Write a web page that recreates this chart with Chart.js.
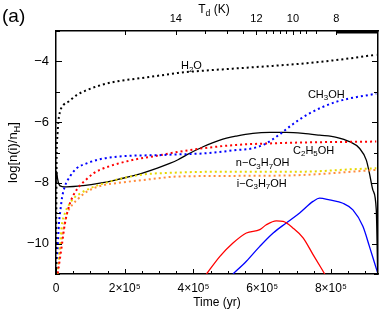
<!DOCTYPE html>
<html>
<head>
<meta charset="utf-8">
<script src="https://cdn.jsdelivr.net/npm/chart.js@4.4.1/dist/chart.umd.min.js"></script>
<style>
  html, body { margin: 0; padding: 0; background: #fff; }
</style>
</head>
<body>
<canvas id="chart" width="388" height="314"></canvas>
<script>
// time in yr, abundances as log[n(i)/nH]
const h2oT = [0, 900, 2000, 3800, 6700, 11600, 21200, 35700, 60000, 89000, 128000, 176000, 234000, 293000, 355000, 380000, 514000, 709000, 805000, 869000, 932000];
const h2oV = [-11, -9, -7.0, -6.5, -6.0, -5.66, -5.44, -5.33, -5.11, -4.95, -4.79, -4.66, -4.57, -4.48, -4.38, -4.35, -4.24, -4.08, -3.97, -3.88, -3.78];

const ch3ohT = [0, 1500, 4400, 8700, 13000, 17400, 26200, 40700, 60000, 89000, 128000, 176000, 234000, 293000, 331000, 428000, 525000, 573000, 612000, 651000, 690000, 738000, 816000, 932000];
const ch3ohV = [-11, -10.6, -10.2, -9.32, -8.89, -8.5, -8.1, -7.79, -7.52, -7.36, -7.22, -7.14, -7.10, -7.09, -7.07, -7.03, -6.92, -6.86, -6.70, -6.40, -6.06, -5.71, -5.33, -5.06];

const c2h5ohT = [0, 6700, 16600, 26200, 40700, 60000, 89000, 110000, 128000, 176000, 234000, 293000, 355000, 428000, 525000, 622000, 719000, 932000];
const c2h5ohV = [-11.3, -10.85, -10.09, -9.32, -8.67, -8.23, -7.88, -7.68, -7.57, -7.38, -7.22, -7.11, -6.98, -6.86, -6.75, -6.70, -6.67, -6.64];

const nprT = [0, 4400, 11600, 16600, 26200, 37800, 52300, 71700, 101000, 159000, 243000, 355000, 525000, 719000, 864000, 932000];
const nprV = [-11.5, -10.85, -10.1, -9.43, -8.99, -8.72, -8.50, -8.34, -8.17, -7.95, -7.74, -7.66, -7.63, -7.63, -7.55, -7.52];

const iprT = [0, 6700, 13400, 23300, 33100, 47600, 66800, 91000, 139000, 176000, 273000, 355000, 525000, 719000, 864000, 932000];
const iprV = [-11.5, -10.75, -10.1, -9.43, -8.99, -8.72, -8.50, -8.28, -8.07, -8.01, -7.88, -7.79, -7.77, -7.74, -7.63, -7.57];

const blackT = [0, 1500, 4400, 8700, 17400, 31000, 79000, 128000, 176000, 234000, 293000, 331000, 355000, 380000, 428000, 477000, 525000, 573000, 622000, 670000, 719000, 767000, 816000, 854000, 883000, 903000, 912000, 922000, 932000, 936000];
const blackV = [-8.0, -7.62, -7.85, -8.05, -8.12, -8.13, -8.09, -8.01, -7.90, -7.74, -7.52, -7.36, -7.24, -7.08, -6.81, -6.59, -6.46, -6.37, -6.34, -6.34, -6.37, -6.43, -6.50, -6.64, -6.86, -7.25, -7.68, -8.23, -8.89, -11];

const redT = [438000, 477000, 515000, 554000, 593000, 612000, 641000, 661000, 690000, 719000, 748000, 782000];
const redV = [-11, -10.42, -9.98, -9.65, -9.54, -9.38, -9.25, -9.27, -9.49, -9.81, -10.36, -11];

const blueT = [515000, 554000, 593000, 632000, 670000, 709000, 748000, 767000, 796000, 835000, 864000, 893000, 912000, 927000, 937000];
const blueV = [-11, -10.58, -10.09, -9.65, -9.32, -8.99, -8.61, -8.50, -8.56, -8.67, -8.89, -9.43, -10.09, -10.64, -11];

// bottom axis ticks
const timeTicks = [0, 50000, 100000, 150000, 200000, 250000, 300000, 350000, 400000, 450000, 500000, 550000, 600000, 650000, 700000, 750000, 800000, 850000, 900000];
const timeTickLabels = ['0', '', '', '', '2\u00d710\u2075', '', '', '', '4\u00d710\u2075', '', '', '', '6\u00d710\u2075', '', '', '', '8\u00d710\u2075', '', ''];
const timeTickMajor = [true, false, false, false, true, false, false, false, true, false, false, false, true, false, false, false, true, false, false];

// left / right axis ticks
const logTicks = [-11, -10, -9, -8, -7, -6, -5, -4, -3];
const logTickLabels = ['', '\u221210', '', '\u22128', '', '\u22126', '', '\u22124', ''];

// top axis: dust temperature ticks (time where T_d takes the value)
const tdTickT = [200500, 348700, 433000, 497800, 544300, 583200, 612300, 631500, 653000, 670400, 689600, 709100, 728500, 757600, 815700];
const tdTickLabel = ['', '14', '', '', '', '12', '', '', '', '', '10', '', '', '', '8'];
const tdTickMajor = [true, true, false, false, false, true, false, false, false, false, true, false, false, false, true];
const tdFlatStart = 815700;

const tMax = 937000;

const speciesLabels = [
  { parts: [['H', 0], ['2', 1], ['O', 0]], t: 394000, v: -4.13 },
  { parts: [['CH', 0], ['3', 1], ['OH', 0]], t: 786600, v: -5.06 },
  { parts: [['C', 0], ['2', 1], ['H', 0], ['5', 1], ['OH', 0]], t: 749700, v: -6.92 },
  { parts: [['n\u2212C', 0], ['3', 1], ['H', 0], ['7', 1], ['OH', 0]], t: 601500, v: -7.32 },
  { parts: [['i\u2212C', 0], ['3', 1], ['H', 0], ['7', 1], ['OH', 0]], t: 598600, v: -7.99 }
];

const FONT = "'Liberation Sans', Arial, sans-serif";
Chart.defaults.font.family = FONT;
Chart.defaults.color = '#000';

function pts(t, v) {
  return t.map((x, i) => ({ x: x, y: v[i] }));
}

function dotted(label, t, v, color) {
  return {
    label: label, data: pts(t, v), borderColor: color, borderWidth: 2,
    borderDash: [2, 3], borderCapStyle: 'butt', pointRadius: 0,
    cubicInterpolationMode: 'monotone', fill: false
  };
}

function solid(label, t, v, color) {
  return {
    label: label, data: pts(t, v), borderColor: color, borderWidth: 1.3,
    pointRadius: 0, cubicInterpolationMode: 'monotone', fill: false
  };
}

function drawRich(ctx, parts, cx, cy, size) {
  let w = 0;
  parts.forEach(p => {
    ctx.font = (p[1] ? size * 0.72 : size) + 'px ' + FONT;
    w += ctx.measureText(p[0]).width;
  });
  let x = cx - w / 2;
  ctx.textAlign = 'left';
  ctx.textBaseline = 'alphabetic';
  parts.forEach(p => {
    ctx.font = (p[1] ? size * 0.72 : size) + 'px ' + FONT;
    ctx.fillText(p[0], x, cy + size * 0.36 + (p[1] ? size * 0.22 : 0));
    x += ctx.measureText(p[0]).width;
  });
}

const snap = p => Math.round(p) + 0.5;

const decor = {
  id: 'decor',
  afterDraw(chart) {
    const ctx = chart.ctx;
    const a = chart.chartArea;
    const sx = chart.scales.x, sy = chart.scales.y;
    ctx.save();
    ctx.setLineDash([]);
    ctx.strokeStyle = '#000';
    ctx.fillStyle = '#000';
    ctx.lineWidth = 1;

    // inward tick marks
    ctx.beginPath();
    timeTicks.forEach((t, i) => {
      const px = snap(sx.getPixelForValue(t));
      const len = timeTickMajor[i] ? 5 : 3;
      ctx.moveTo(px, a.bottom); ctx.lineTo(px, a.bottom - len);
    });
    logTicks.forEach(v => {
      const py = snap(sy.getPixelForValue(v));
      const len = v % 2 === 0 ? 6 : 4;
      ctx.moveTo(a.left, py); ctx.lineTo(a.left + len, py);
      ctx.moveTo(a.right, py); ctx.lineTo(a.right - len, py);
    });
    tdTickT.forEach((t, i) => {
      const px = snap(sx.getPixelForValue(t));
      const len = tdTickMajor[i] ? 4 : 3;
      ctx.moveTo(px, a.top); ctx.lineTo(px, a.top + len);
    });
    ctx.stroke();

    // compressed temperature ticks after 8 K
    ctx.lineWidth = 3;
    ctx.beginPath();
    ctx.moveTo(sx.getPixelForValue(tdFlatStart), a.top + 1);
    ctx.lineTo(a.right, a.top + 1);
    ctx.stroke();

    // species labels
    speciesLabels.forEach(l => {
      drawRich(ctx, l.parts, sx.getPixelForValue(l.t), sy.getPixelForValue(l.v), 11);
    });

    // titles
    ctx.font = '19px ' + FONT;
    ctx.textAlign = 'left';
    ctx.textBaseline = 'middle';
    ctx.fillText('(a)', 2, 17);

    drawRich(ctx, [['T', 0], ['d', 1], [' (K)', 0]], 214, 9, 12);

    ctx.font = '12px ' + FONT;
    ctx.textAlign = 'center';
    ctx.textBaseline = 'middle';
    ctx.fillText('Time (yr)', 217, 303);

    ctx.translate(12, (a.top + a.bottom) / 2);
    ctx.rotate(-Math.PI / 2);
    drawRich(ctx, [['log[n(i)/n', 0], ['H', 1], [']', 0]], 0, 0, 13);
    ctx.restore();
  }
};

new Chart(document.getElementById('chart'), {
  type: 'line',
  data: {
    datasets: [
      dotted('H2O', h2oT, h2oV, '#000000'),
      dotted('CH3OH', ch3ohT, ch3ohV, '#0000ff'),
      dotted('C2H5OH', c2h5ohT, c2h5ohV, '#ff0000'),
      dotted('n-C3H7OH', nprT, nprV, '#e6d800'),
      dotted('i-C3H7OH', iprT, iprV, '#ff8c3c'),
      solid('gas', blackT, blackV, '#000000'),
      solid('red', redT, redV, '#ff0000'),
      solid('blue', blueT, blueV, '#0000ff')
    ]
  },
  options: {
    responsive: false,
    animation: false,
    layout: { padding: 0 },
    plugins: { legend: { display: false }, tooltip: { enabled: false } },
    scales: {
      x: {
        type: 'linear', position: 'bottom', min: 0, max: tMax,
        afterFit: s => { s.height = 40; },
        afterBuildTicks: s => { s.ticks = timeTicks.map(t => ({ value: t })); },
        grid: { display: false, drawTicks: false },
        border: { display: true, color: '#000', width: 1.5 },
        ticks: {
          autoSkip: false, maxRotation: 0, padding: 7, font: { size: 12 },
          callback: (v, i) => timeTickLabels[i]
        }
      },
      x2: {
        type: 'linear', position: 'top', min: 0, max: tMax,
        afterFit: s => { s.height = 31; },
        afterBuildTicks: s => { s.ticks = tdTickT.map(t => ({ value: t })); },
        grid: { display: false, drawTicks: false },
        border: { display: true, color: '#000', width: 1.5 },
        ticks: {
          autoSkip: false, maxRotation: 0, padding: 5, font: { size: 11 },
          callback: (v, i) => tdTickLabel[i]
        }
      },
      y: {
        position: 'left', min: -11, max: -3,
        afterFit: s => { s.width = 56; },
        afterBuildTicks: s => { s.ticks = logTicks.map(v => ({ value: v })); },
        grid: { display: false, drawTicks: false },
        border: { display: true, color: '#000', width: 1.5 },
        ticks: {
          autoSkip: false, padding: 7, font: { size: 13 },
          callback: (v, i) => logTickLabels[i]
        }
      },
      y2: {
        position: 'right', min: -11, max: -3,
        afterFit: s => { s.width = 10; },
        grid: { display: false, drawTicks: false },
        border: { display: true, color: '#000', width: 1.5 },
        ticks: { display: false }
      }
    }
  },
  plugins: [decor]
});
</script>
</body>
</html>
